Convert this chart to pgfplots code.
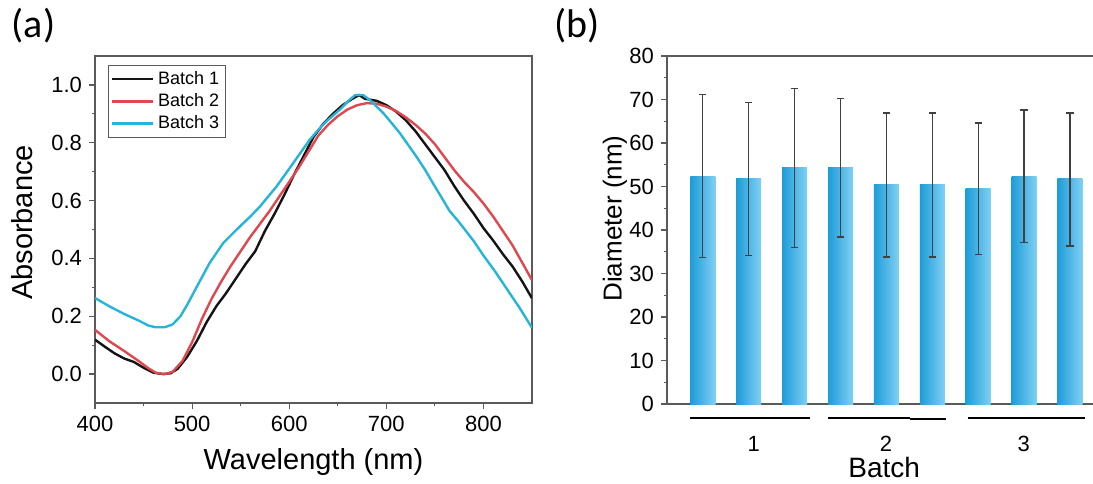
\documentclass[border=0pt]{standalone}
\usepackage{pgfplots}
\pgfplotsset{compat=1.18}
\usepackage{pgfplotstable}
\usepackage{fontspec}
\setmainfont{Liberation Sans}
\newfontfamily\carlito{Carlito}

\definecolor{bone}{RGB}{20,20,20}
\definecolor{btwo}{RGB}{222,72,78}
\definecolor{bthree}{RGB}{38,180,216}
\definecolor{barL}{RGB}{30,156,216}
\definecolor{barR}{RGB}{128,208,244}
\definecolor{axgray}{RGB}{90,90,90}

% diameter per sample: x, mean, +err, -err
\pgfplotstableread{
x y ep em
1 52.4 18.8 18.8
2 51.9 17.5 17.7
3 54.4 18.1 18.4
4 54.4 15.9 16.0
5 50.5 16.4 16.7
6 50.5 16.4 16.7
7 49.5 15.1 15.1
8 52.4 15.2 15.3
9 51.8 15.1 15.5
}\diamtab

\tikzset{lbl/.style={font=\fontsize{14.5}{17}\selectfont, anchor=center}}

\pgfplotsset{
  common/.style={
    scale only axis,
    tick align=outside,
    xtick pos=left, ytick pos=left,
    axis line style={axgray, line width=0.6pt},
    every tick/.style={axgray, line width=0.6pt},
    major tick length=3pt, minor tick length=1.6pt,
    tick label style={font=\fontsize{11}{13}\selectfont},
    /pgf/number format/assume math mode=true,
  },
}

\begin{document}
\begin{tikzpicture}
\begin{axis}[common,
  at={(47.5pt,40pt)}, anchor=south west,
  width=218.5pt, height=173.5pt,
  xmin=400, xmax=850, ymin=-0.1, ymax=1.1,
  xtick={400,500,600,700,800}, minor x tick num=1,
  ytick={0,0.2,0.4,0.6,0.8,1.0}, minor y tick num=1,
  yticklabel style={/pgf/number format/.cd, fixed, fixed zerofill, precision=1},
  xlabel={Wavelength (nm)}, ylabel={Absorbance},
  every axis x label/.style={at={(axis description cs:0.5,-0.17)}, lbl},
  every axis y label/.style={at={(axis description cs:-0.166,0.52)}, lbl, rotate=90},
  legend style={at={(axis description cs:0.03,0.975)}, anchor=north west,
    draw=axgray, line width=0.5pt, font=\fontsize{9}{10}\selectfont,
    inner xsep=1pt, inner ysep=1pt, row sep=-1pt},
  legend cell align=left,
  legend image code/.code={\draw[#1, line width=1.3pt] (0cm,0cm) -- (0.72cm,0cm);},
  every axis plot/.append style={line width=1.2pt, no markers},
]
\addplot[bone] coordinates {
(400,0.119) (410,0.095) (420,0.072) (430,0.054) (440,0.042) (450,0.022)
(460,0.005) (470,0.000) (478,0.003) (485,0.018) (495,0.060) (505,0.115)
(515,0.180) (525,0.235) (535,0.280) (545,0.330) (555,0.380) (565,0.425)
(575,0.495) (585,0.555) (595,0.620) (605,0.690) (615,0.755) (625,0.820)
(635,0.865) (645,0.900) (655,0.930) (665,0.952) (672,0.965) (678,0.952)
(690,0.945) (700,0.930) (710,0.908) (720,0.878) (730,0.840) (740,0.795)
(750,0.750) (760,0.705) (770,0.650) (780,0.600) (790,0.555) (800,0.505)
(810,0.462) (820,0.415) (830,0.372) (840,0.320) (850,0.262)
};
\addlegendentry{Batch 1}
\addplot[btwo] coordinates {
(400,0.153) (415,0.113) (430,0.080) (445,0.045) (455,0.020) (463,0.004)
(472,0.000) (480,0.008) (490,0.045) (500,0.110) (510,0.190) (520,0.260)
(530,0.320) (540,0.375) (550,0.425) (560,0.475) (570,0.520) (580,0.565)
(590,0.615) (600,0.665) (610,0.715) (620,0.770) (630,0.825) (640,0.862)
(650,0.892) (660,0.915) (670,0.930) (680,0.937) (690,0.935) (700,0.925)
(710,0.910) (720,0.888) (730,0.862) (740,0.832) (750,0.795) (760,0.750)
(770,0.705) (780,0.665) (790,0.630) (800,0.590) (810,0.545) (820,0.495)
(830,0.445) (840,0.385) (850,0.325)
};
\addlegendentry{Batch 2}
\addplot[bthree] coordinates {
(400,0.263) (415,0.234) (430,0.208) (445,0.185) (455,0.168) (462,0.162)
(472,0.162) (480,0.172) (488,0.200) (495,0.240) (505,0.303) (518,0.384)
(532,0.453) (549,0.510) (560,0.545) (570,0.580) (587,0.649) (604,0.729)
(621,0.810) (630,0.845) (638,0.873) (652,0.914) (662,0.948) (668,0.965)
(676,0.965) (683,0.948) (690,0.925) (697,0.902) (705,0.870) (714,0.833)
(722,0.795) (731,0.752) (740,0.706) (748,0.660) (757,0.610) (765,0.565)
(775,0.525) (790,0.460) (800,0.410) (812,0.355) (825,0.290) (838,0.225)
(850,0.160)
};
\addlegendentry{Batch 3}
\end{axis}

\begin{axis}[common,
  at={(333.5pt,39.5pt)}, anchor=south west,
  width=219.4pt, height=174pt,
  xmin=0.22, xmax=9.78, ymin=0, ymax=80,
  ytick={0,10,...,80}, minor y tick num=1,
  xtick={2.11,4.99,7.99}, xticklabels={1,2,3},
  major x tick style={draw=none},
  xticklabel style={anchor=center, yshift=-17pt},
  xlabel={Batch}, ylabel={Diameter (nm)},
  every axis x label/.style={at={(axis description cs:0.495,-0.181)}, lbl, font=\fontsize{14}{17}\selectfont},
  every axis y label/.style={at={(axis description cs:-0.1185,0.533)}, lbl, font=\fontsize{13}{16}\selectfont, rotate=90},
  clip=false,
]
% one bar per plot so every bar gets its own shading
\pgfplotsinvokeforeach{1,...,9}{
  \addplot[ybar, bar width=12.5pt, bar shift=0pt, draw=none,
    left color=barL, right color=barR,
    x filter/.expression={abs(x-#1)<0.1 ? x : nan}]
    table[x=x, y=y] {\diamtab};
}
\addplot[draw=none, mark=none,
  error bars/.cd, y dir=both, y explicit, error mark=|,
  error bar style={draw=black!75, line width=0.6pt},
  error mark options={draw=black!75, line width=0.6pt, mark size=1.8pt}]
  table[x=x, y=y, y error plus=ep, y error minus=em] {\diamtab};
\draw[black, line width=1.4pt] ([yshift=-7pt]axis cs:0.72,0) -- ([yshift=-7pt]axis cs:3.33,0);
\draw[black, line width=1.4pt] ([yshift=-7pt]axis cs:3.72,0) -- ([yshift=-7pt]axis cs:5.51,0);
\draw[black, line width=1.4pt] ([yshift=-7.5pt]axis cs:5.51,0) -- ([yshift=-7.5pt]axis cs:6.29,0);
\draw[black, line width=1.4pt] ([yshift=-7pt]axis cs:6.77,0) -- ([yshift=-7pt]axis cs:9.32,0);
\end{axis}

\node[font=\carlito\fontsize{20}{24}\selectfont] at (16.75pt,228.5pt) {(a)};
\node[font=\carlito\fontsize{20}{24}\selectfont] at (288.5pt,228.5pt) {(b)};

\pgfresetboundingbox
\path[use as bounding box] (0,0) rectangle (546.5pt,241.5pt);
\end{tikzpicture}
\end{document}
